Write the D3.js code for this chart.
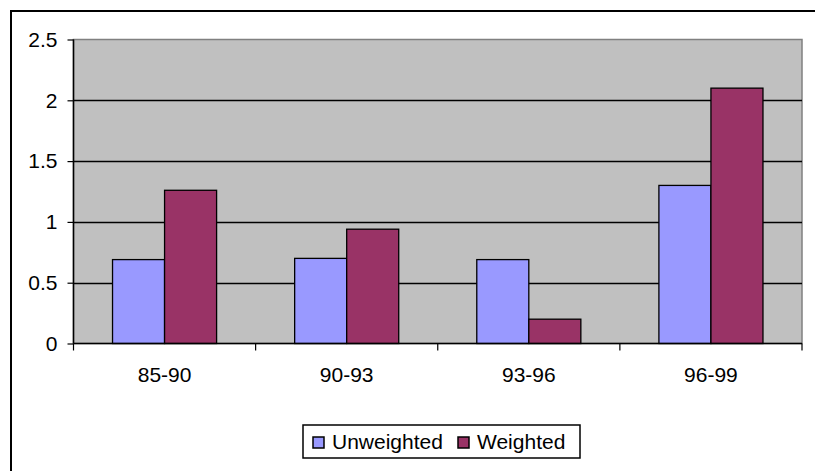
<!DOCTYPE html>
<html>
<head>
<meta charset="utf-8">
<script src="https://cdn.jsdelivr.net/npm/d3@7"></script>
<style>
  body { margin: 0; background: #fff; }
  text { font-family: "Liberation Sans", Arial, sans-serif; fill: #000; }
</style>
</head>
<body>
<div id="chart"></div>
<script>
// Data
var categories = ["85-90", "90-93", "93-96", "96-99"];
var seriesNames = ["Unweighted", "Weighted"];
var unweighted = [0.69, 0.70, 0.69, 1.30];
var weighted = [1.26, 0.94, 0.20, 2.10];
var yTicks = [0, 0.5, 1, 1.5, 2, 2.5];
var colors = ["#9999FF", "#993366"];

function init() {
    var w = 815, h = 471;
    var left = 73.5, right = 802, top = 39.5, bottom = 343.5;

    var svg = d3.select("#chart").append("svg")
        .attr("width", w)
        .attr("height", h);

    // outer chart frame (runs off the right and bottom edge)
    svg.append("rect")
        .attr("x", 11).attr("y", 11)
        .attr("width", 840).attr("height", 500)
        .attr("fill", "#fff")
        .attr("stroke", "#000")
        .attr("stroke-width", 2);

    var x0 = d3.scaleBand()
        .domain(categories)
        .range([left, right]);

    // Excel style: gap width 150% -> bar = band / 3.5
    var barW = x0.bandwidth() / 3.5;
    var x1 = d3.scaleBand()
        .domain(seriesNames)
        .range([barW * 0.75, barW * 2.75]);

    var y = d3.scaleLinear()
        .domain([0, 2.5])
        .range([bottom, top]);

    // plot area
    svg.append("rect")
        .attr("x", left).attr("y", top)
        .attr("width", right - left).attr("height", bottom - top)
        .attr("fill", "#C0C0C0")
        .attr("stroke", "#808080")
        .attr("stroke-width", 1.5);

    // gridlines
    svg.append("g").selectAll("line")
        .data(yTicks.filter(function(d) { return d > 0 && d < 2.5; }))
        .enter().append("line")
        .attr("x1", left).attr("x2", right)
        .attr("y1", function(d) { return Math.round(y(d)) + 0.5; })
        .attr("y2", function(d) { return Math.round(y(d)) + 0.5; })
        .attr("stroke", "#000")
        .attr("stroke-width", 1.3);

    // bars
    var rows = categories.map(function(c, i) {
        return { cat: c, values: [unweighted[i], weighted[i]] };
    });

    svg.append("g").selectAll("g")
        .data(rows)
        .enter().append("g")
        .attr("transform", function(d) { return "translate(" + x0(d.cat) + ",0)"; })
        .selectAll("rect")
        .data(function(d) { return d.values; })
        .enter().append("rect")
        .attr("x", function(d, i) { return x1(seriesNames[i]); })
        .attr("y", function(d) { return y(d); })
        .attr("width", x1.bandwidth())
        .attr("height", function(d) { return y(0) - y(d); })
        .attr("fill", function(d, i) { return colors[i]; })
        .attr("stroke", "#000")
        .attr("stroke-width", 1.3);

    // y axis
    var yAxis = d3.axisLeft(y)
        .tickValues(yTicks)
        .tickFormat(function(d) { return d; })
        .tickSize(6)
        .tickPadding(10);

    var gy = svg.append("g")
        .attr("transform", "translate(" + left + ",0)")
        .call(yAxis);
    gy.select(".domain").attr("stroke", "#000").attr("stroke-width", 1.5)
        .attr("d", "M0," + top + "V" + bottom);
    gy.selectAll(".tick line").attr("stroke", "#000").attr("stroke-width", 1.2);
    gy.selectAll("text")
        .style("font-size", "21px")
        .attr("font-family", null);

    // x axis: ticks at category boundaries
    var xAxis = d3.axisBottom(x0).tickSize(0).tickPadding(24);
    var gx = svg.append("g")
        .attr("transform", "translate(0," + bottom + ")")
        .call(xAxis);
    gx.select(".domain").attr("stroke", "#000").attr("stroke-width", 1.5)
        .attr("d", "M" + left + ",0H" + right);
    gx.selectAll("text")
        .style("font-size", "21px")
        .attr("font-family", null);

    var bounds = categories.map(function(c) { return x0(c); }).concat([right]);
    gx.selectAll(".bound")
        .data(bounds)
        .enter().append("line")
        .attr("class", "bound")
        .attr("x1", function(d) { return d; })
        .attr("x2", function(d) { return d; })
        .attr("y1", 0).attr("y2", 7)
        .attr("stroke", "#000")
        .attr("stroke-width", 1.2);

    // legend
    var legend = svg.append("g").attr("transform", "translate(303,425)");
    legend.append("rect")
        .attr("width", 277).attr("height", 33)
        .attr("fill", "#fff")
        .attr("stroke", "#000")
        .attr("stroke-width", 1.5);

    var legendX = [10, 155];
    var items = legend.selectAll(".item")
        .data(seriesNames)
        .enter().append("g")
        .attr("class", "item")
        .attr("transform", function(d, i) { return "translate(" + legendX[i] + ",0)"; });

    items.append("rect")
        .attr("x", 0).attr("y", 12)
        .attr("width", 11).attr("height", 11)
        .attr("fill", function(d, i) { return colors[i]; })
        .attr("stroke", "#000")
        .attr("stroke-width", 1.5);

    items.append("text")
        .attr("x", 19)
        .attr("y", 24)
        .style("font-size", "21px")
        .text(function(d) { return d; });
}

window.onload = init;
</script>
</body>
</html>
